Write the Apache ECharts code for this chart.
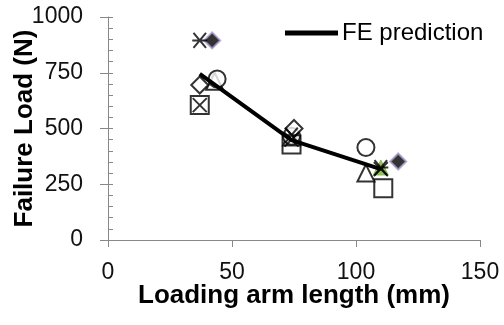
<!DOCTYPE html>
<html><head><meta charset="utf-8">
<script src="https://cdn.jsdelivr.net/npm/echarts@6/dist/echarts.min.js"></script>
<style>html,body{margin:0;padding:0;background:#fff}#c{width:504px;height:325px}</style>
</head><body><div id="c"></div>
<script>
var xTicks = [0, 50, 100, 150];
var yTicks = [0, 250, 500, 750, 1000];
var fePrediction = [[37, 745], [74, 448], [110, 318]];
var hollowDiamond = [[37, 695], [75, 500]];
var hollowSquare = [[37, 605], [74, 428], [111, 232]];
var hollowCircle = [[44, 722], [74, 465], [104, 415]];
var hollowTriangle = [[43, 712], [74, 462], [104, 300]];
var crossMark = [[37, 605], [74, 450], [110, 318]];
var starMark = [[37, 895], [74, 470], [110, 325]];
var purpleDiamond = [[42, 895], [117, 352]];
var greenTriangle = [[110, 325]];

var F = 'Liberation Sans, Arial, sans-serif';
var chart = echarts.init(document.getElementById('c'));
function hollow(name, data, symbol, size) {
  return {name: name, type: 'scatter', data: data, symbol: symbol, symbolSize: size,
    itemStyle: {color: '#fff', borderColor: '#000', borderWidth: 2}, z: 3};
}
function strokeSym(name, data, path, size) {
  return {name: name, type: 'scatter', data: data, symbol: path, symbolSize: size,
    itemStyle: {color: 'rgba(0,0,0,0)', borderColor: '#000', borderWidth: 2}, z: 4};
}
function plain(v) { return String(v); }
chart.setOption({
  animation: false,
  grid: {left: 108, right: 24, top: 17, bottom: 85, containLabel: false, outerBoundsMode: 'none'},
  legend: {data: [{name: 'FE prediction', icon: 'rect'}], left: 285, top: 21, padding: 0, itemWidth: 53, itemHeight: 5, itemGap: 6,
    textStyle: {fontFamily: F, fontSize: 24, color: '#000', padding: [0, 0, 0, -1]}},
  xAxis: {type: 'value', min: xTicks[0], max: xTicks[xTicks.length - 1], interval: 50,
    name: 'Loading arm length (mm)', nameLocation: 'middle', nameGap: 43, nameMoveOverlap: false,
    nameTextStyle: {fontFamily: F, fontSize: 26, fontWeight: 'bold', color: '#000'},
    axisLine: {lineStyle: {color: '#888', width: 1}},
    axisTick: {show: true, length: 7, lineStyle: {color: '#888'}},
    axisLabel: {fontFamily: F, fontSize: 23, color: '#111', margin: 21, formatter: plain},
    splitLine: {show: false}},
  yAxis: [{type: 'value', min: yTicks[0], max: yTicks[yTicks.length - 1], interval: 250,
    name: 'Failure Load (N)', nameLocation: 'middle', nameGap: 70, nameMoveOverlap: false,
    nameTextStyle: {fontFamily: F, fontSize: 26, fontWeight: 'bold', color: '#000'},
    axisLine: {show: true, lineStyle: {color: '#888', width: 1}},
    axisTick: {show: true, inside: true, length: 5, lineStyle: {color: '#888'}},
    minorTick: {show: true, splitNumber: 5, length: 5, lineStyle: {color: '#888'}},
    axisLabel: {fontFamily: F, fontSize: 23, color: '#111', margin: 25, formatter: plain},
    splitLine: {show: false}},
    {type: 'value', min: yTicks[0], max: yTicks[yTicks.length - 1], interval: 250, position: 'left',
    axisLine: {show: false}, axisTick: {show: true, length: 8, lineStyle: {color: '#888'}},
    axisLabel: {show: false}, splitLine: {show: false}}],
  series: [
    hollow('sq', hollowSquare, 'rect', 18),
    hollow('tri', hollowTriangle, 'triangle', 17),
    hollow('circ', hollowCircle, 'circle', 17),
    hollow('dia', hollowDiamond, 'diamond', 17),
    strokeSym('x', crossMark, 'path://M-1,-1 L1,1 M-1,1 L1,-1', 14),
    {name: 'g', type: 'scatter', data: greenTriangle, symbol: 'triangle', symbolSize: 15,
      itemStyle: {color: '#7ab33c', borderColor: '#7ab33c', borderWidth: 1}, z: 3},
    strokeSym('star', starMark, 'path://M-1,-1 L1,1 M-1,1 L1,-1 M-1.2,0 L1.2,0', 15),
    {name: 'pd', type: 'scatter', data: purpleDiamond, symbol: 'diamond', symbolSize: 16,
      itemStyle: {color: '#000', borderColor: '#a898c8', borderWidth: 2}, z: 3},
    {name: 'FE prediction', type: 'line', data: fePrediction, symbol: 'none', color: '#000',
      lineStyle: {color: '#000', width: 4}, z: 5}
  ]
});
</script></body></html>
